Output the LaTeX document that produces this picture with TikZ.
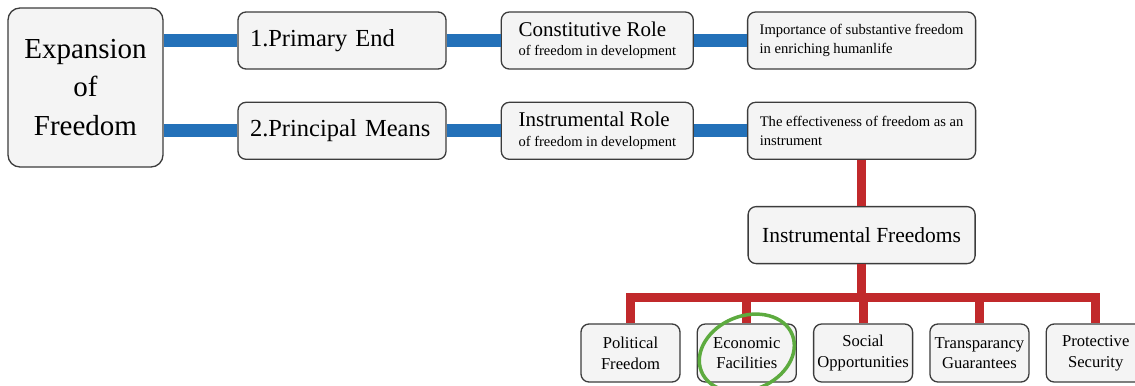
\documentclass[tikz,border=0pt]{standalone}
\usepackage{xcolor}
\usepackage{fontspec}
\setmainfont{Liberation Serif}
\usepackage{tikz}
\usetikzlibrary{shapes, positioning}

\definecolor{boxfill}{HTML}{F4F4F4}
\definecolor{boxdraw}{HTML}{3C3C3C}
\definecolor{linkblue}{HTML}{2371B9}
\definecolor{linkred}{HTML}{C1292B}
\definecolor{ringgreen}{HTML}{5DAB3F}

\newcommand{\setfs}[2]{\fontsize{#1bp}{#2bp}\selectfont}

\begin{document}
\begin{tikzpicture}[
        x=1bp, y=1bp,
        block/.style={rectangle, rounded corners=8bp, draw=boxdraw, line width=1.3bp, fill=boxfill, minimum height=57bp, inner sep=0pt},
        main_block/.style={block, rounded corners=12bp, minimum width=155bp, minimum height=159bp, align=center, font=\setfs{29}{38.5}},
        means_block/.style={block, text width=184bp, inner xsep=12bp, align=left, font=\setfs{24.5}{30}},
        role_block/.style={block, minimum width=192bp, align=left, font=\setfs{14.5}{19.3}},
        note_block/.style={block, minimum width=228bp, align=left, font=\setfs{14.6}{19}},
        sub_block/.style={block, minimum width=99bp, minimum height=58bp, align=center, font=\setfs{16.6}{20.7}},
        blue_link/.style={draw=linkblue, line width=13bp},
        red_link/.style={draw=linkred, line width=9bp},
        ring/.style={draw=ringgreen, line width=3.5bp}
    ]
    \useasboundingbox (0,0) rectangle (1135,-385);

    \node[main_block] (expansion) at (85.5,-87.5) {Expansion\\of\\Freedom};
    \node[means_block] (primary) at (342,-40.5) {1.Primary End};
    \node[means_block, below=32bp of primary] (principal) {2.Principal Means};
    \node[role_block, right=54bp of primary] (constit) {{\setfs{21}{19.3}Constitutive Role}\\of freedom in development};
    \node[role_block, right=54bp of principal] (instrrole) {{\setfs{21}{19.3}Instrumental Role}\\of freedom in development};
    \node[note_block, right=53bp of constit] (importance) {Importance of substantive freedom\\in enriching humanlife};
    \node[note_block, right=53bp of instrrole] (effective) {The effectiveness of freedom as an\\instrument};
    \node[block, minimum width=227bp, font=\setfs{21.5}{28}, below=46bp of effective] (freedoms) {Instrumental Freedoms};

    % five instrumental freedoms
    \node[sub_block] (political) at (630.5,-353) {Political\\Freedom};
    \node[sub_block, right=16bp of political] (economic) {Economic\\Facilities};
    \node[sub_block, right=16bp of economic] (social) {Social\\Opportunities};
    \node[sub_block, right=16bp of social] (transp) {Transparancy\\Guarantees};
    \node[sub_block, right=16bp of transp] (protective) {Protective\\Security};

    \draw[blue_link] (primary.west -| expansion.east) -- (primary.west);
    \draw[blue_link] (principal.west -| expansion.east) -- (principal.west);
    \draw[blue_link] (primary.east) -- (constit.west);
    \draw[blue_link] (principal.east) -- (instrrole.west);
    \draw[blue_link] (constit.east) -- (importance.west);
    \draw[blue_link] (instrrole.east) -- (effective.west);

    \draw[red_link] (effective.south) -- (freedoms.north);
    \path (freedoms.south) ++(0,-33.5) coordinate (bar);
    \foreach \sub in {political, economic, social, transp, protective}
        \draw[red_link] (freedoms.south) -- (bar) -| (\sub.north);

    \draw[ring, rotate around={22:(economic.center)}] (economic.center) ellipse [x radius=49bp, y radius=37bp];
\end{tikzpicture}
\end{document}
